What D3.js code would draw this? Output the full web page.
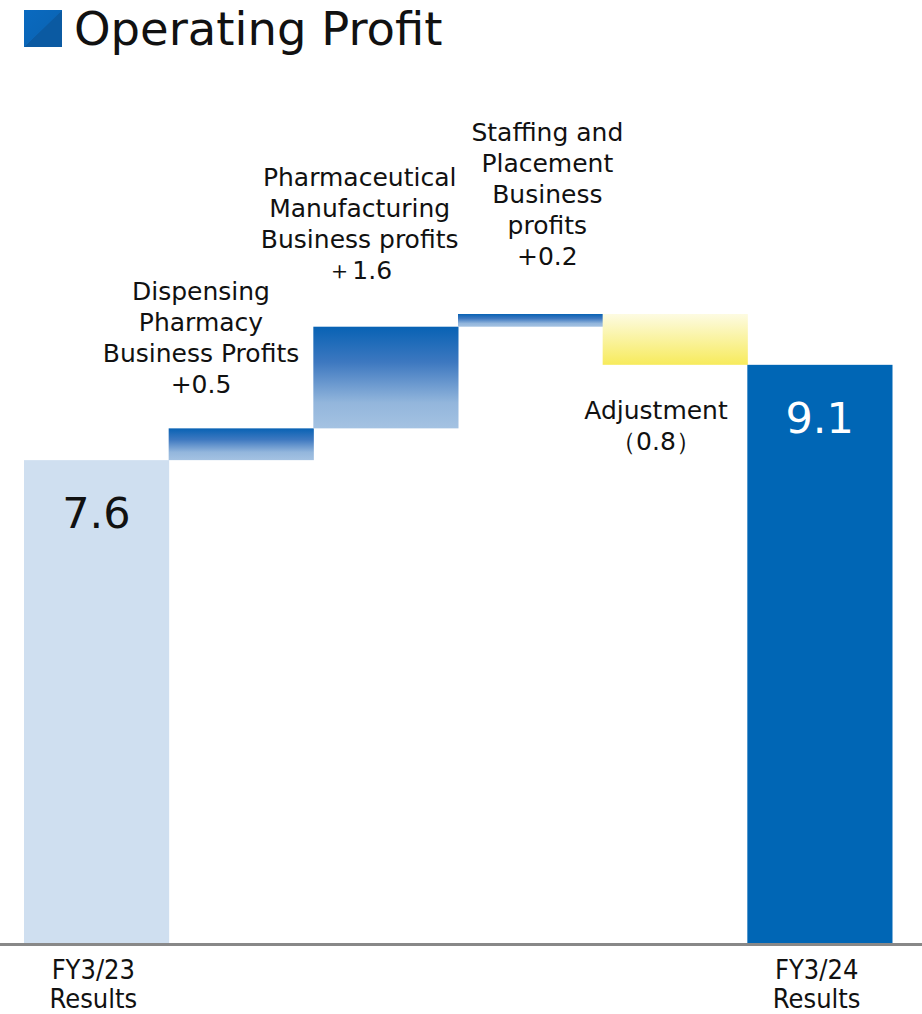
<!DOCTYPE html>
<html>
<title>Operating Profit</title>
<meta charset="UTF-8">
<script src="https://d3js.org/d3.v7.min.js"></script>
<style>
  body { margin:0; background:#fff; }
  text { font-family: "DejaVu Sans", Verdana, sans-serif; fill:#111; }
  .axislab { font-family: "DejaVu Sans Condensed", "Liberation Sans Narrow", sans-serif; font-stretch: condensed; }
</style>
<body>
<svg id="viz"></svg>
<script>
// data
var categories = ["FY3/23", "Dispensing", "Pharma", "Staffing", "Adjustment", "FY3/24"];
var values = [7.6, 0.5, 1.6, 0.2, -0.8, 9.1];
var kinds = ["total0", "step", "step", "step", "adjust", "total1"];
var stepLabels = [
  null,
  ["Dispensing", "Pharmacy", "Business Profits", "+0.5"],
  ["Pharmaceutical", "Manufacturing", "Business profits", "＋1.6"],
  ["Staffing and", "Placement", "Business", "profits", "+0.2"],
  ["Adjustment", "（0.8）"],
  null
];
var axisLabels = [["FY3/23", "Results"], null, null, null, null, ["FY3/24", "Results"]];

var W = 922, H = 1014;
var svg = d3.select("#viz").attr("width", W).attr("height", H);

var x = d3.scaleBand().domain(categories).range([24, 892]).padding(0);
var y = d3.scaleLinear().domain([0, 9.9]).range([943, 314]);

// label placement tweaks (dx from band centre, dy from bar edge)
var labelPos = {
  Dispensing: {dx: -40, dy: -35},
  Pharma:     {dx: -26, dy: -48},
  Staffing:   {dx: 17,  dy: -49},
  Adjustment: {dx: -19, dy: 54}
};

// running totals for waterfall
var rows = [];
var run = 0;
categories.forEach(function(c, i){
  var v = values[i], lo, hi;
  if (kinds[i] === "total0" || kinds[i] === "total1") { lo = 0; hi = v; run = v; }
  else { lo = Math.min(run, run + v); hi = Math.max(run, run + v); run = run + v; }
  rows.push({cat:c, v:v, lo:lo, hi:hi, kind:kinds[i], lab:stepLabels[i], ax:axisLabels[i]});
});

var defs = svg.append("defs");
var gb = defs.append("linearGradient").attr("id","gBlue").attr("x1",0).attr("y1",0).attr("x2",0).attr("y2",1);
gb.append("stop").attr("offset","0%").attr("stop-color","#0862b4");
gb.append("stop").attr("offset","35%").attr("stop-color","#3d78c0");
gb.append("stop").attr("offset","75%").attr("stop-color","#93b6dc");
gb.append("stop").attr("offset","100%").attr("stop-color","#a4c2e2");
var gy = defs.append("linearGradient").attr("id","gYel").attr("x1",0).attr("y1",0).attr("x2",0).attr("y2",1);
gy.append("stop").attr("offset","0%").attr("stop-color","#fdfbe2");
gy.append("stop").attr("offset","100%").attr("stop-color","#f7eb5c");
var gt = defs.append("linearGradient").attr("id","gTitle").attr("x1",0).attr("y1",0).attr("x2",1).attr("y2",1);
gt.append("stop").attr("offset","0%").attr("stop-color","#0a6ac0");
gt.append("stop").attr("offset","50%").attr("stop-color","#0a66b8");
gt.append("stop").attr("offset","51%").attr("stop-color","#0b5aa2");
gt.append("stop").attr("offset","100%").attr("stop-color","#0b5aa2");

function fillFor(k){
  if (k === "total0") return "#cfdff0";
  if (k === "total1") return "#0066b5";
  if (k === "adjust") return "url(#gYel)";
  return "url(#gBlue)";
}

svg.selectAll("rect.bar").data(rows).enter().append("rect")
  .attr("class","bar")
  .attr("x", function(d){ return x(d.cat); })
  .attr("width", x.bandwidth() + 0.5)
  .attr("y", function(d){ return y(d.hi); })
  .attr("height", function(d){ return y(d.lo) - y(d.hi); })
  .attr("fill", function(d){ return fillFor(d.kind); });

// axis line
svg.append("line")
  .attr("x1", 0).attr("x2", W)
  .attr("y1", y(0) + 1.5).attr("y2", y(0) + 1.5)
  .attr("stroke", "#888").attr("stroke-width", 3);

// total values inside bars
svg.selectAll("text.tot").data(rows.filter(function(d){ return d.ax; })).enter().append("text")
  .attr("class","tot")
  .attr("x", function(d){ return x(d.cat) + x.bandwidth()/2; })
  .attr("y", function(d){ return y(d.hi) + (d.kind === "total1" ? 68 : 68); })
  .attr("text-anchor","middle")
  .style("font-size","43px")
  .style("fill", function(d){ return d.kind === "total1" ? "#fff" : "#111"; })
  .text(function(d){ return d.v.toFixed(1); });

// step labels
var lh = 31;
rows.forEach(function(d){
  if (!d.lab) return;
  var p = labelPos[d.cat];
  var cx = x(d.cat) + x.bandwidth()/2 + p.dx;
  var n = d.lab.length, base;
  if (d.kind === "adjust") base = y(d.lo) + p.dy;
  else base = y(d.hi) + p.dy - (n - 1) * lh;
  var t = svg.append("text").attr("text-anchor","middle").style("font-size","25px");
  d.lab.forEach(function(s, i){
    t.append("tspan").attr("x", cx).attr("y", base + i * lh).text(s);
  });
});

// category labels
rows.forEach(function(d){
  if (!d.ax) return;
  var t = svg.append("text").attr("class","axislab").attr("text-anchor","middle").style("font-size","27px");
  d.ax.forEach(function(s, i){
    t.append("tspan").attr("x", x(d.cat) + x.bandwidth()/2 - 3).attr("y", y(0) + 36 + i * 29).text(s);
  });
});

// title
svg.append("rect").attr("x",24).attr("y",10).attr("width",38).attr("height",37).attr("fill","url(#gTitle)");
svg.append("text").attr("x",74).attr("y",45).style("font-size","46.5px").text("Operating Profit");
</script>
</body>
</html>
